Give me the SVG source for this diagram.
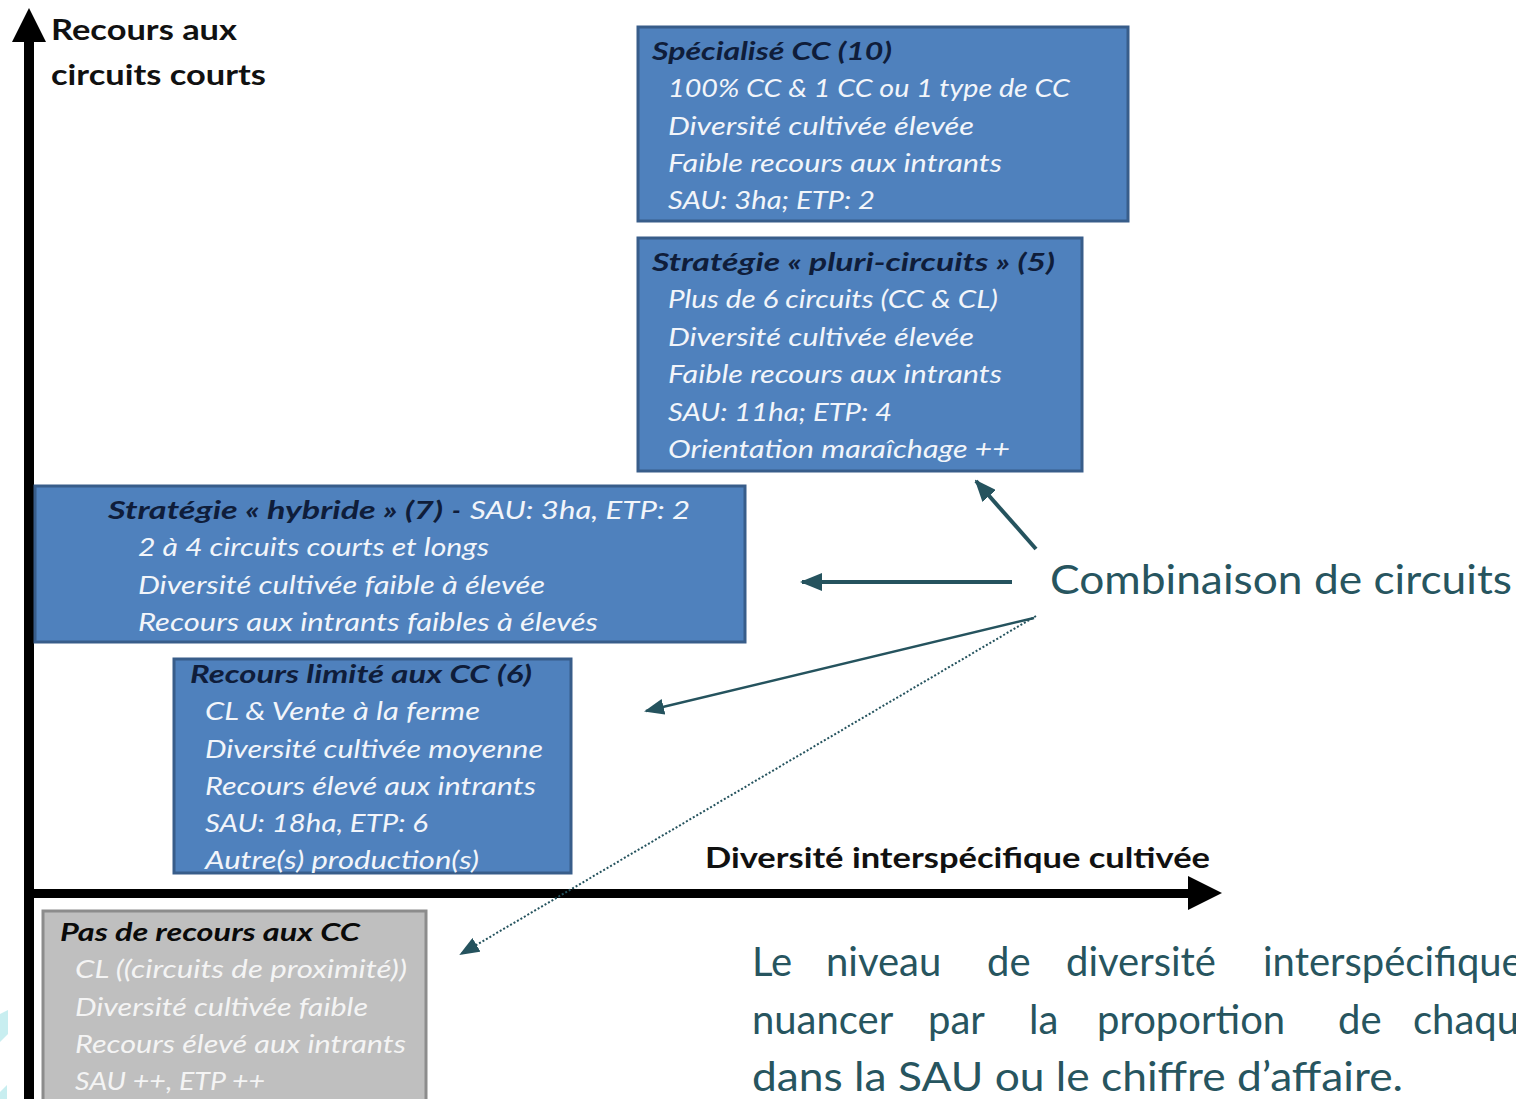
<svg xmlns="http://www.w3.org/2000/svg" width="1516" height="1099" viewBox="0 0 1516 1099">
<style>
.box{fill:#4f81bd;stroke:#385d8a;stroke-width:3}
.gbox{fill:#bfbfbf;stroke:#8c8c8c;stroke-width:3}
.t{font-family:Lato,"Liberation Sans",sans-serif;font-style:italic;font-weight:bold;font-size:25px;fill:#0f1d3a}
.b{font-family:Lato,"Liberation Sans",sans-serif;font-style:italic;font-size:25px;fill:#f2f5fa}
.gt{font-family:Lato,"Liberation Sans",sans-serif;font-style:italic;font-weight:bold;font-size:25px;fill:#0a0a0a}
.gb{font-family:Lato,"Liberation Sans",sans-serif;font-style:italic;font-size:25px;fill:#f4f4f4}
.ax{font-family:Lato,"Liberation Sans",sans-serif;font-weight:bold;font-size:28px;fill:#111}
.teal{font-family:Lato,"Liberation Sans",sans-serif;font-size:40px;fill:#27555f}
.c{stroke:#25535e;fill:none}
</style>
<defs>
<marker id="hBig" markerUnits="userSpaceOnUse" markerWidth="22" markerHeight="18" refX="20" refY="9" orient="auto">
<path d="M0,0 L22,9 L0,18 Z" fill="#25535e"/>
</marker>
<marker id="hMid" markerUnits="userSpaceOnUse" markerWidth="20" markerHeight="16" refX="18" refY="8" orient="auto">
<path d="M0,0 L20,8 L0,16 Z" fill="#25535e"/>
</marker>
</defs>
<rect width="1516" height="1099" fill="#ffffff"/>

<g id="decor">
<polygon points="0,1014 8,1010 8,1034 0,1042" fill="#c8eef0"/>
<polygon points="0,1092 7,1085 7,1099 0,1099" fill="#c8eef0"/>
</g>

<g id="axes">
<rect x="24" y="36" width="10" height="1063" fill="#000"/>
<polygon points="12,42 29,8 46,42" fill="#000"/>
<rect x="34" y="889" width="1158" height="9" fill="#000"/>
<polygon points="1188,876 1222,893 1188,910" fill="#000"/>
<text class="ax" x="51" y="40" textLength="186" lengthAdjust="spacingAndGlyphs">Recours aux</text>
<text class="ax" x="51" y="85" textLength="215" lengthAdjust="spacingAndGlyphs">circuits courts</text>
<text class="ax" x="705" y="868" textLength="505" lengthAdjust="spacingAndGlyphs">Diversité interspécifique cultivée</text>
</g>

<g id="specialise">
<rect class="box" x="638" y="27" width="490" height="194"/>
<text class="t" x="652" y="60" textLength="240" lengthAdjust="spacingAndGlyphs">Spécialisé  CC (10)</text>
<text class="b" x="668" y="97" textLength="402" lengthAdjust="spacingAndGlyphs">100% CC &amp; 1 CC ou 1 type de CC</text>
<text class="b" x="668" y="135" textLength="306" lengthAdjust="spacingAndGlyphs">Diversité cultivée élevée</text>
<text class="b" x="668" y="172" textLength="334" lengthAdjust="spacingAndGlyphs">Faible recours aux intrants</text>
<text class="b" x="668" y="209" textLength="207" lengthAdjust="spacingAndGlyphs">SAU: 3ha; ETP: 2</text>
</g>

<g id="pluri">
<rect class="box" x="638" y="238" width="444" height="233"/>
<text class="t" x="652" y="271" textLength="403" lengthAdjust="spacingAndGlyphs">Stratégie « pluri-circuits » (5)</text>
<text class="b" x="668" y="308" textLength="330" lengthAdjust="spacingAndGlyphs">Plus de 6 circuits (CC &amp; CL)</text>
<text class="b" x="668" y="346" textLength="306" lengthAdjust="spacingAndGlyphs">Diversité cultivée élevée</text>
<text class="b" x="668" y="383" textLength="334" lengthAdjust="spacingAndGlyphs">Faible recours aux intrants</text>
<text class="b" x="668" y="421" textLength="224" lengthAdjust="spacingAndGlyphs">SAU: 11ha; ETP: 4</text>
<text class="b" x="668" y="458" textLength="342" lengthAdjust="spacingAndGlyphs">Orientation maraîchage ++</text>
</g>

<g id="hybride">
<rect class="box" x="35" y="486" width="710" height="156"/>
<text class="t" x="108" y="519" textLength="335" lengthAdjust="spacingAndGlyphs">Stratégie « hybride » (7)</text>
<text class="t" x="452" y="519">-</text>
<text class="b" x="470" y="519" textLength="220" lengthAdjust="spacingAndGlyphs">SAU: 3ha, ETP: 2</text>
<text class="b" x="138" y="556" textLength="351" lengthAdjust="spacingAndGlyphs">2 à 4 circuits courts et longs</text>
<text class="b" x="138" y="594" textLength="407" lengthAdjust="spacingAndGlyphs">Diversité cultivée faible à élevée</text>
<text class="b" x="138" y="631" textLength="460" lengthAdjust="spacingAndGlyphs">Recours aux intrants faibles à élevés</text>
</g>

<g id="limite">
<rect class="box" x="174" y="659" width="397" height="214"/>
<text class="t" x="190" y="683" textLength="342" lengthAdjust="spacingAndGlyphs">Recours limité aux CC (6)</text>
<text class="b" x="205" y="720" textLength="275" lengthAdjust="spacingAndGlyphs">CL &amp; Vente à la ferme</text>
<text class="b" x="205" y="758" textLength="338" lengthAdjust="spacingAndGlyphs">Diversité cultivée moyenne</text>
<text class="b" x="205" y="795" textLength="331" lengthAdjust="spacingAndGlyphs">Recours élevé aux intrants</text>
<text class="b" x="205" y="832" textLength="223" lengthAdjust="spacingAndGlyphs">SAU: 18ha, ETP: 6</text>
<text class="b" x="205" y="869" textLength="274" lengthAdjust="spacingAndGlyphs">Autre(s) production(s)</text>
</g>

<g id="pas-de-recours">
<rect class="gbox" x="43" y="911" width="383" height="200"/>
<text class="gt" x="60" y="941" textLength="300" lengthAdjust="spacingAndGlyphs">Pas de recours  aux CC</text>
<text class="gb" x="75" y="978" textLength="332" lengthAdjust="spacingAndGlyphs">CL ((circuits de proximité))</text>
<text class="gb" x="75" y="1016" textLength="293" lengthAdjust="spacingAndGlyphs">Diversité cultivée faible</text>
<text class="gb" x="75" y="1053" textLength="331" lengthAdjust="spacingAndGlyphs">Recours élevé aux intrants</text>
<text class="gb" x="75" y="1090" textLength="190" lengthAdjust="spacingAndGlyphs">SAU ++, ETP ++</text>
</g>

<g id="combinaison">
<text class="teal" x="1050" y="594" textLength="462" lengthAdjust="spacingAndGlyphs">Combinaison de circuits</text>
</g>

<g id="note">
<text class="teal" y="976"><tspan x="752">Le</tspan><tspan x="826">niveau</tspan><tspan x="987">de</tspan><tspan x="1066">diversité</tspan><tspan x="1263">interspécifique</tspan></text>
<text class="teal" y="1034"><tspan x="752">nuancer</tspan><tspan x="928">par</tspan><tspan x="1029">la</tspan><tspan x="1097">proportion</tspan><tspan x="1338">de</tspan><tspan x="1413">chaque</tspan></text>
<text class="teal" x="752" y="1091" textLength="651" lengthAdjust="spacingAndGlyphs">dans la SAU ou le chiffre d’affaire.</text>
</g>

<g id="connectors">
<line class="c" x1="1036" y1="549" x2="976" y2="481" stroke-width="4" marker-end="url(#hBig)"/>
<line class="c" x1="1012" y1="582" x2="802" y2="582" stroke-width="4" marker-end="url(#hBig)"/>
<line class="c" x1="1034" y1="618" x2="646" y2="711" stroke-width="2.5" marker-end="url(#hMid)"/>
<line class="c" x1="1036" y1="616" x2="461" y2="954" stroke-width="2" stroke-dasharray="2 2" marker-end="url(#hMid)"/>
</g>
</svg>
